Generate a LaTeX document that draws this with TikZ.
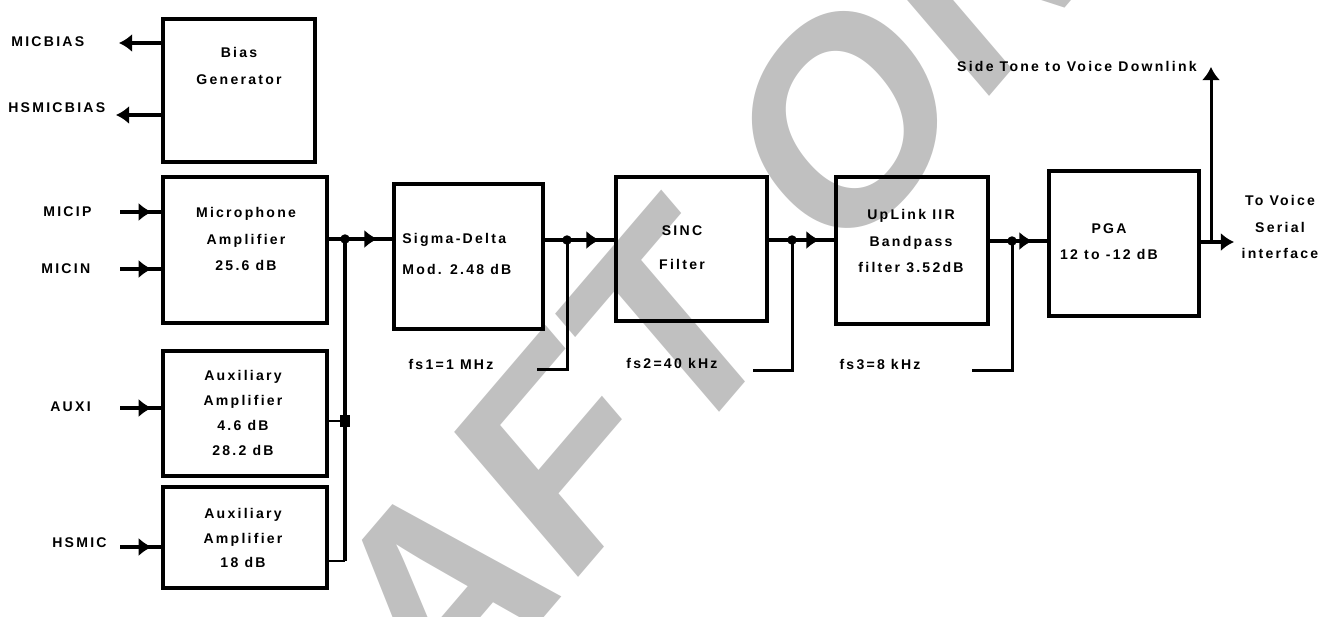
\documentclass[tikz,border=0pt]{standalone}
\usepackage{fontspec}
\setmainfont{Liberation Sans}
\newfontfamily\spacedsans{Liberation Sans}[LetterSpace=16]
\usetikzlibrary{arrows.meta,decorations.markings}
\definecolor{wmgray}{RGB}{192,192,192}

\begin{document}
\begin{tikzpicture}[x=0.02cm, y=-0.02cm, >={Latex[length=7.5pt,width=10.5pt]},
    blk/.style={draw, line width=1.8pt, inner sep=0pt},
    lbl/.style={font=\spacedsans\bfseries\fontsize{8}{15}\selectfont, align=center, inner sep=0pt},
    wire/.style={line width=2.7pt},
    feed/.style={line width=1.7pt},
    thinwire/.style={line width=0.8pt},
    tipin/.style={postaction={decorate}, decoration={markings, mark=at position -#1 with {\arrow{>}}}},
    wmark/.style={text=wmgray, font=\bfseries\fontsize{145}{145}\selectfont, inner sep=0pt, yscale=1.17, rotate=45}]

    \useasboundingbox (0,0) rectangle (1332,616);
    \clip (0,0) rectangle (1332,616);

    % --- watermark ---
    \begin{scope}[shift={(677,462)}]
      \node[wmark, anchor=base west] (wmr) at (0,0) {T ONLY};
      \node[wmark, anchor=base east] (wml) at (0,0) {DRAF};
    \end{scope}

    % --- blocks ---
    \node[blk, minimum width=3.04cm, minimum height=2.86cm] (bias) at (239,90.5) {};
    \node[blk, minimum width=3.28cm, minimum height=2.92cm] (mic) at (245,250) {};
    \node[blk, minimum width=3.28cm, minimum height=2.5cm] (aux1) at (245,413.5) {};
    \node[blk, minimum width=3.28cm, minimum height=2.02cm] (aux2) at (245,537.5) {};
    \node[blk, minimum width=2.98cm, minimum height=2.9cm] (sd) at (468.5,256.5) {};
    \node[blk, minimum width=3.02cm, minimum height=2.88cm] (sinc) at (691.5,249) {};
    \node[blk, minimum width=3.04cm, minimum height=2.94cm] (iir) at (912,250.5) {};
    \node[blk, minimum width=3.0cm, minimum height=2.9cm] (pga) at (1124,243.5) {};

    \node[lbl] (biastxt) at (239,66) {Bias\\Generator};
    \node[lbl] (mictxt) at (246,239) {Microphone\\Amplifier\\25.6 dB};
    \node[lbl] (aux1txt) at (243,413) {Auxiliary\\[-0.6pt]Amplifier\\[-0.6pt]4.6 dB\\[-0.6pt]28.2 dB};
    \node[lbl] (aux2txt) at (243,538) {Auxiliary\\[-1pt]Amplifier\\[-1pt]18 dB};
    \node[lbl, align=left, anchor=west] (sdtxt) at (402,254) {Sigma-Delta\\[2.6pt]Mod. 2.48 dB};
    \node[lbl] (sinctxt) at (682,248) {SINC\\[4.3pt]Filter};
    \node[lbl] (iirtxt) at (911,241) {UpLink IIR\\Bandpass\\filter 3.52dB};
    \node[lbl] (pgatxt) at (1109,241.5) {PGA\\12 to -12 dB};

    % --- pins and labels ---
    \node[lbl, anchor=west] (micbias) at (11,42) {MICBIAS};
    \node[lbl, anchor=west] (hsmicbias) at (8,108) {HSMICBIAS};
    \node[lbl, anchor=west] (micip) at (43,212) {MICIP};
    \node[lbl, anchor=west] (micin) at (41,269) {MICIN};
    \node[lbl, anchor=west] (auxi) at (50,407) {AUXI};
    \node[lbl, anchor=west] (hsmic) at (52,543) {HSMIC};
    \node[lbl] (fs1) at (451,364) {fs1=1 MHz};
    \node[lbl] (fs2) at (672,363) {fs2=40 kHz};
    \node[lbl] (fs3) at (880,364) {fs3=8 kHz};
    \node[lbl, anchor=east] (sidetone) at (1197,66) {Side Tone to Voice Downlink};
    \node[lbl] (tovoice) at (1280,227) {To Voice\\Serial\\interface};

    \coordinate (mbtip) at (119,43);
    \coordinate (hbtip) at (116,115);
    \coordinate (ipin) at (120,212);
    \coordinate (inin) at (120,269);
    \coordinate (axin) at (120,408);
    \coordinate (hsin) at (120,547);
    \coordinate (j1) at (345,239);
    \coordinate (j2) at (567,240);
    \coordinate (j3) at (792,240);
    \coordinate (j4) at (1012,241);
    \coordinate (stap) at (1211,242);
    \coordinate (ax1j) at (345,421);
    \coordinate (busend) at (345,561);
    \coordinate (f1) at (537,369);
    \coordinate (f2) at (753,370);
    \coordinate (f3) at (972,370);
    \coordinate (outtip) at (1234,242);
    \coordinate (sttip) at (1211,67);

    % bias outputs
    \draw[wire, ->] (bias.west |- mbtip) -- (mbtip);
    \draw[wire, ->] (bias.west |- hbtip) -- (hbtip);

    % inputs
    \draw[wire, tipin=5.5pt] (ipin) -- (mic.west |- ipin);
    \draw[wire, tipin=5.5pt] (inin) -- (mic.west |- inin);
    \draw[wire, tipin=5.5pt] (axin) -- (aux1.west |- axin);
    \draw[wire, tipin=5.5pt] (hsin) -- (aux2.west |- hsin);

    % summing bus
    \draw[wire] (mic.east |- j1) -- (j1);
    \draw[wire] (j1) -- (busend);
    \draw[thinwire] (aux1.east |- ax1j) -- (ax1j);
    \draw[thinwire] (aux2.east |- busend) -- (busend);
    \fill ([xshift=-2.8pt,yshift=-3.4pt]ax1j) rectangle ([xshift=2.8pt,yshift=3.4pt]ax1j);

    % main chain
    \draw[wire, tipin=8.5pt] (j1) -- (sd.west |- j1);
    \draw[wire] (sd.east |- j2) -- (j2);
    \draw[wire, tipin=8.5pt] (j2) -- (sinc.west |- j2);
    \draw[wire] (sinc.east |- j3) -- (j3);
    \draw[wire, tipin=8.5pt] (j3) -- (iir.west |- j3);
    \draw[wire] (iir.east |- j4) -- (j4);
    \draw[wire, tipin=8.5pt] (j4) -- (pga.west |- j4);
    \draw[wire, ->] (pga.east |- stap) -- (outtip);
    \draw[feed, ->] (stap) -- (sttip);

    % clock feeds
    \draw[feed] (j2) |- (f1);
    \draw[feed] (j3) |- (f2);
    \draw[feed] (j4) |- (f3);
    \foreach \j in {j1,j2,j3,j4}
      \fill (\j) circle (2.7pt);
  \end{tikzpicture}
\end{document}
